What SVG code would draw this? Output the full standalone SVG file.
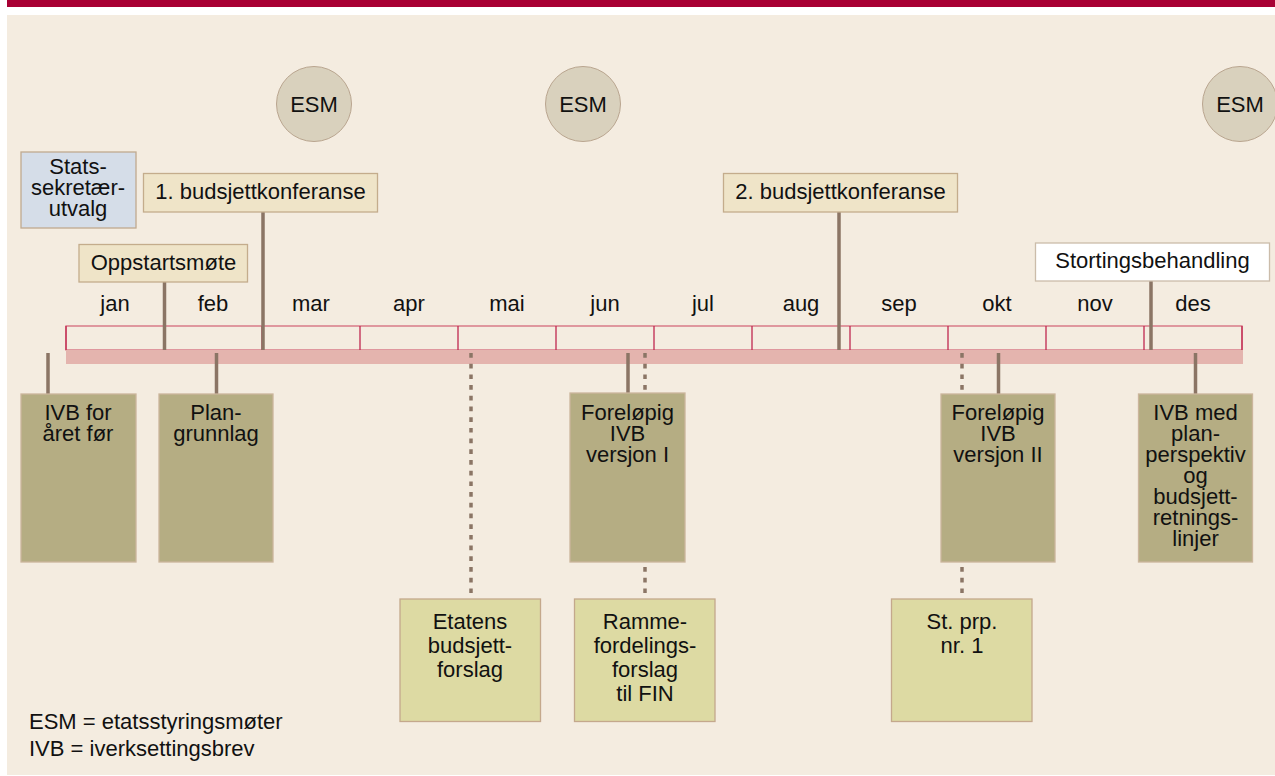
<svg xmlns="http://www.w3.org/2000/svg" width="1275" height="776" viewBox="0 0 1275 776">
<style>
.t{font-family:"Liberation Sans",Arial,sans-serif;font-size:22px;fill:#111}
.c{text-anchor:middle}
.stem{stroke:#8b7565;stroke-width:3.5;fill:none}
.dot{stroke:#8b7565;stroke-width:3.5;stroke-dasharray:4.7 6;fill:none}
.esm{fill:#d9d1bd;stroke:#b9a58f;stroke-width:1}
.conf{fill:#efe4c8;stroke:#c4ac8c;stroke-width:1.3}
.dark{fill:#b5ad83;stroke:#cbb59c;stroke-width:1.3}
.light{fill:#dddaa3;stroke:#c4a88c;stroke-width:1.3}
.div{stroke:#c02850;stroke-width:1.3}
</style>
<rect x="0" y="0" width="1275" height="776" fill="#ffffff"/>
<rect x="7" y="0" width="1268" height="7" fill="#a80034"/>
<rect x="7" y="15" width="1268" height="760" fill="#f4ece0"/>

<g id="esm1"><circle class="esm" cx="314" cy="104" r="37.5"/><text class="t c" x="314" y="112">ESM</text></g>
<g id="esm2"><circle class="esm" cx="583" cy="104" r="37.5"/><text class="t c" x="583" y="112">ESM</text></g>
<g id="esm3"><circle class="esm" cx="1240" cy="104" r="37.5"/><text class="t c" x="1240" y="112">ESM</text></g>

<g id="timeline">
<rect x="66" y="326" width="1176" height="24" fill="none" stroke="#d46a7c" stroke-width="1.3"/>
<g class="div">
<line x1="66" y1="326" x2="66" y2="350"/><line x1="164" y1="326" x2="164" y2="350"/><line x1="262" y1="326" x2="262" y2="350"/><line x1="360" y1="326" x2="360" y2="350"/><line x1="458" y1="326" x2="458" y2="350"/><line x1="556" y1="326" x2="556" y2="350"/><line x1="654" y1="326" x2="654" y2="350"/><line x1="752" y1="326" x2="752" y2="350"/><line x1="850" y1="326" x2="850" y2="350"/><line x1="948" y1="326" x2="948" y2="350"/><line x1="1046" y1="326" x2="1046" y2="350"/><line x1="1144" y1="326" x2="1144" y2="350"/><line x1="1242" y1="326" x2="1242" y2="350"/>
</g>
<rect x="66" y="350" width="1177" height="14" fill="#e4b4ae"/>
<g class="t c">
<text x="115" y="311">jan</text><text x="213" y="311">feb</text><text x="311" y="311">mar</text><text x="409" y="311">apr</text><text x="507" y="311">mai</text><text x="605" y="311">jun</text><text x="703" y="311">jul</text><text x="801" y="311">aug</text><text x="899" y="311">sep</text><text x="997" y="311">okt</text><text x="1095" y="311">nov</text><text x="1193" y="311">des</text>
</g>
</g>

<g id="connectors">
<line class="stem" x1="164.5" y1="282" x2="164.5" y2="350"/>
<line class="stem" x1="263" y1="212" x2="263" y2="350"/>
<line class="stem" x1="839" y1="212" x2="839" y2="350"/>
<line class="stem" x1="1151" y1="281" x2="1151" y2="350"/>
<line class="stem" x1="48" y1="353" x2="48" y2="394"/>
<line class="stem" x1="216.5" y1="353" x2="216.5" y2="394"/>
<line class="stem" x1="628" y1="353" x2="628" y2="394"/>
<line class="stem" x1="998.5" y1="353" x2="998.5" y2="394"/>
<line class="stem" x1="1195.5" y1="353" x2="1195.5" y2="394"/>
<line class="dot" x1="471" y1="353" x2="471" y2="593"/>
<line class="dot" x1="645" y1="353" x2="645" y2="392"/>
<line class="dot" x1="645" y1="567" x2="645" y2="593"/>
<line class="dot" x1="962" y1="353" x2="962" y2="392"/>
<line class="dot" x1="962" y1="567" x2="962" y2="593"/>
</g>

<g id="statssekretaer"><rect x="21" y="152" width="115" height="76" fill="#d5dde8" stroke="#c0aa90" stroke-width="1.3"/>
<text class="t c" x="78"><tspan x="78" y="174">Stats-</tspan><tspan x="78" y="195">sekretær-</tspan><tspan x="78" y="216">utvalg</tspan></text></g>

<g id="konf1"><rect class="conf" x="143.5" y="173.5" width="234" height="38.5"/><text class="t c" x="260.5" y="199">1. budsjettkonferanse</text></g>
<g id="oppstart"><rect class="conf" x="79" y="244.5" width="168.5" height="37.5"/><text class="t c" x="163.5" y="270">Oppstartsmøte</text></g>
<g id="konf2"><rect class="conf" x="723.5" y="173.5" width="234" height="38.5"/><text class="t c" x="840.5" y="199">2. budsjettkonferanse</text></g>
<g id="storting"><rect x="1035.5" y="243" width="234" height="38" fill="#ffffff" stroke="#cbbcaa" stroke-width="1.3"/><text class="t c" x="1152.5" y="268">Stortingsbehandling</text></g>

<g id="ivb-foer"><rect class="dark" x="21" y="394" width="115" height="168"/>
<text class="t c"><tspan x="78" y="420">IVB for</tspan><tspan x="78" y="441">året før</tspan></text></g>
<g id="plangrunnlag"><rect class="dark" x="159" y="394" width="114" height="168"/>
<text class="t c"><tspan x="216" y="420">Plan-</tspan><tspan x="216" y="441">grunnlag</tspan></text></g>
<g id="forelopig1"><rect class="dark" x="570" y="393" width="115" height="169"/>
<text class="t c"><tspan x="627.5" y="420">Foreløpig</tspan><tspan x="627.5" y="441">IVB</tspan><tspan x="627.5" y="462">versjon I</tspan></text></g>
<g id="forelopig2"><rect class="dark" x="941" y="394" width="114" height="168"/>
<text class="t c"><tspan x="998" y="420">Foreløpig</tspan><tspan x="998" y="441">IVB</tspan><tspan x="998" y="462">versjon II</tspan></text></g>
<g id="ivb-med"><rect class="dark" x="1138.5" y="394" width="114" height="168"/>
<text class="t c"><tspan x="1195.5" y="420">IVB med</tspan><tspan x="1195.5" y="441">plan-</tspan><tspan x="1195.5" y="462">perspektiv</tspan><tspan x="1195.5" y="483">og</tspan><tspan x="1195.5" y="504">budsjett-</tspan><tspan x="1195.5" y="525">retnings-</tspan><tspan x="1195.5" y="546">linjer</tspan></text></g>

<g id="etatens"><rect class="light" x="400" y="599" width="140.5" height="122.5"/>
<text class="t c"><tspan x="470" y="629">Etatens</tspan><tspan x="470" y="653">budsjett-</tspan><tspan x="470" y="677">forslag</tspan></text></g>
<g id="ramme"><rect class="light" x="574.5" y="599" width="140.5" height="122.5"/>
<text class="t c"><tspan x="645" y="629">Ramme-</tspan><tspan x="645" y="653">fordelings-</tspan><tspan x="645" y="677">forslag</tspan><tspan x="645" y="701">til FIN</tspan></text></g>
<g id="stprp"><rect class="light" x="891.5" y="599" width="140.5" height="122.5"/>
<text class="t c"><tspan x="962" y="629">St. prp.</tspan><tspan x="962" y="653">nr. 1</tspan></text></g>

<g id="legend"><text class="t"><tspan x="29" y="729">ESM = etatsstyringsmøter</tspan><tspan x="29" y="756">IVB = iverksettingsbrev</tspan></text></g>
</svg>
